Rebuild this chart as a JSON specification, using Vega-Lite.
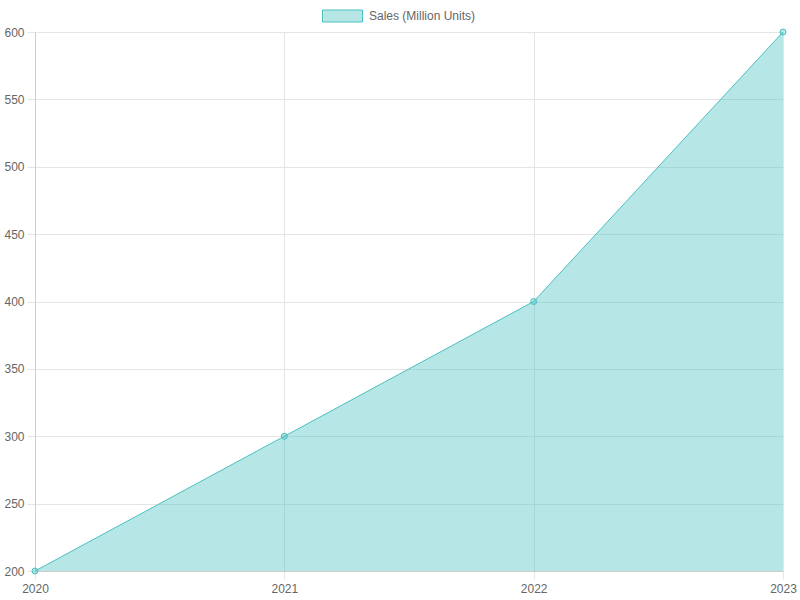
{
  "$schema": "https://vega.github.io/schema/vega-lite/v6.json",
  "width": 748,
  "height": 539,
  "autosize": {"type": "none"},
  "padding": {"left": 35, "top": 32, "right": 17, "bottom": 29},
  "background": "white",
  "config": {
    "font": "Liberation Sans",
    "view": {"stroke": null},
    "axis": {
      "labelColor": "#666666",
      "labelFontSize": 12,
      "labelFont": "Liberation Sans",
      "gridColor": "#e5e5e5",
      "domainColor": "#cccccc",
      "tickColor": "#e5e5e5",
      "tickSize": 8,
      "title": null
    }
  },
  "data": {
    "values": [
      {"year": "2020", "sales": 200, "series": "Sales (Million Units)"},
      {"year": "2021", "sales": 300, "series": "Sales (Million Units)"},
      {"year": "2022", "sales": 400, "series": "Sales (Million Units)"},
      {"year": "2023", "sales": 600, "series": "Sales (Million Units)"}
    ]
  },
  "encoding": {
    "x": {
      "field": "year",
      "type": "ordinal",
      "scale": {"type": "point", "padding": 0},
      "axis": {"labelAngle": 0, "grid": true, "labelPadding": 4, "domain": true}
    },
    "y": {
      "field": "sales",
      "type": "quantitative",
      "scale": {"domain": [200, 600], "nice": false, "zero": false},
      "axis": {"values": [200, 250, 300, 350, 400, 450, 500, 550, 600], "grid": true, "labelPadding": 3}
    }
  },
  "layer": [
    {
      "mark": {"type": "area", "clip": true},
      "encoding": {
        "color": {
          "field": "series",
          "type": "nominal",
          "scale": {"range": ["rgba(75,192,192,0.4)"]},
          "legend": {
            "title": null,
            "orient": "none",
            "legendX": 287,
            "legendY": -36.5,
            "padding": 0,
            "symbolType": "M-1,-0.3H1V0.3H-1Z",
            "symbolSize": 1600,
            "symbolStrokeColor": "#4bc0c0",
            "symbolStrokeWidth": 1,
            "symbolOpacity": 1,
            "labelColor": "#666666",
            "labelFontSize": 12,
            "labelFont": "Liberation Sans",
            "labelOffset": 6
          }
        }
      }
    },
    {
      "mark": {"type": "line", "color": "#4bc0c0", "strokeWidth": 1}
    },
    {
      "mark": {"type": "point", "shape": "circle", "size": 36, "filled": true, "fill": "rgba(75,192,192,0.4)", "stroke": "#4bc0c0", "strokeWidth": 1, "opacity": 1}
    }
  ]
}
